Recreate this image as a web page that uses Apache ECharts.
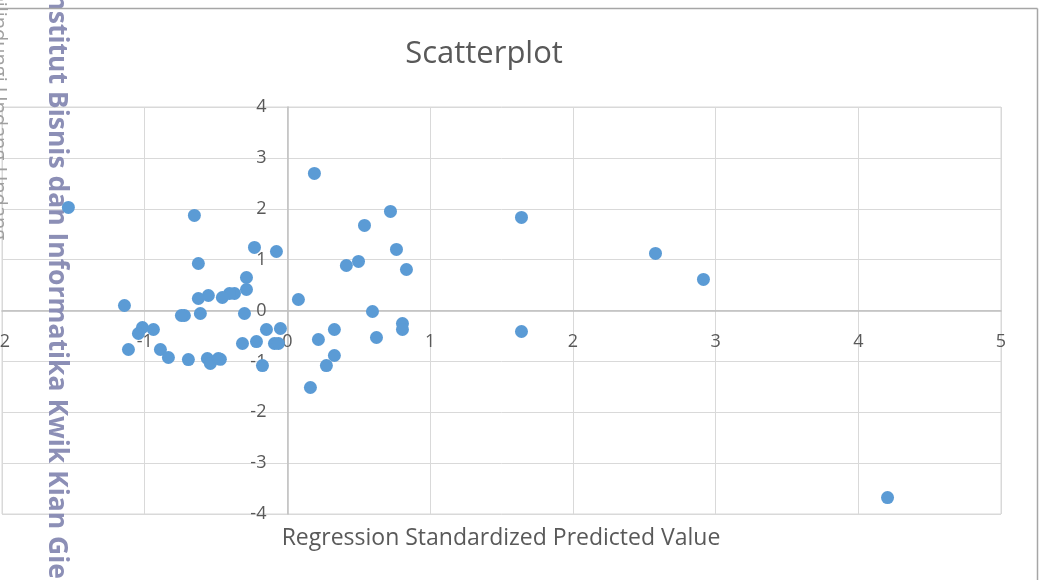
<!DOCTYPE html>
<html>
<head>
<meta charset="utf-8">
<script src="https://cdn.jsdelivr.net/npm/echarts@6/dist/echarts.min.js"></script>
<style>html,body{margin:0;padding:0;background:#fff;}#c{width:1042px;height:580px;}</style>
</head>
<body>
<div id="c"></div>
<script>
const titleText = "Scatterplot";
const xAxisTitle = "Regression Standardized Predicted Value";
const watermark = "Institut Bisnis dan Informatika Kwik Kian Gie";
const watermark2 = "Hak Cipta Dilindungi Undang-Undang";
const xTicks = [-2, -1, 0, 1, 2, 3, 4, 5];
const yTicks = [-4, -3, -2, -1, 0, 1, 2, 3, 4];
const predicted = [
  -1.535, -0.652, 0.189, 0.722, 0.540, 1.640, 2.579, 2.915, 4.205, 1.640,
  -0.231, -0.077, -0.624, 0.764, 0.413, 0.498, 0.834, -0.287, -0.287, -0.371,
  -0.406, -0.456, -0.554, -0.624, -1.142, 0.077, -0.610, -0.722, -0.743, -0.301,
  0.596, 0.806, 0.806, 0.624, 0.329, 0.217, 0.329, 0.273, 0.161, -1.016,
  -1.044, -0.939, -1.114, -0.890, -0.834, -0.694, -0.561, -0.540, -0.484, -0.470,
  -0.315, -0.217, -0.147, -0.049, -0.091, -0.063, -0.175
];
const residual = [
  2.026, 1.868, 2.694, 1.947, 1.672, 1.829, 1.121, 0.610, -3.677, -0.413,
  1.239, 1.160, 0.924, 1.200, 0.885, 0.964, 0.806, 0.649, 0.413, 0.334,
  0.334, 0.256, 0.295, 0.236, 0.098, 0.216, -0.059, -0.098, -0.098, -0.059,
  -0.020, -0.256, -0.374, -0.531, -0.374, -0.570, -0.885, -1.082, -1.514, -0.334,
  -0.452, -0.374, -0.767, -0.767, -0.924, -0.964, -0.944, -1.042, -0.944, -0.960,
  -0.649, -0.610, -0.374, -0.354, -0.649, -0.649, -1.082
];
const points = predicted.map((x, i) => [x, residual[i]]);

const W = 1042, H = 580;
const gridLeft = 2, gridRight = 41, gridTop = 107, gridBottom = 66;
const plotW = W - gridLeft - gridRight, plotH = H - gridTop - gridBottom;
const xMin = xTicks[0], xMax = xTicks[xTicks.length - 1];
const yMin = yTicks[0], yMax = yTicks[yTicks.length - 1];
// axes cross at the origin (Excel style): shift each axis from its edge to the 0 line
const xAxisOffset = -plotH * (0 - yMin) / (yMax - yMin);
const yAxisOffset = -plotW * (0 - xMin) / (xMax - xMin);

const chart = echarts.init(document.getElementById('c'), null, {renderer: 'canvas'});
const font = "'Open Sans', 'Liberation Sans', sans-serif";
chart.setOption({
  animation: false,
  backgroundColor: '#ffffff',
  grid: {left: gridLeft, right: gridRight, top: gridTop, bottom: gridBottom, containLabel: false, outerBoundsMode: 'none',
         show: true, borderColor: '#d9d9d9', borderWidth: 1},
  xAxis: {
    type: 'value', min: xMin, max: xMax, interval: 1,
    position: 'bottom', offset: xAxisOffset,
    axisLine: {show: true, onZero: false, lineStyle: {color: '#bfbfbf', width: 1.5}},
    axisTick: {show: false},
    axisLabel: {color: '#595959', fontSize: 18, fontFamily: font, margin: 22, showMinLabel: true, showMaxLabel: true},
    splitLine: {show: true, lineStyle: {color: '#d9d9d9', width: 1}}
  },
  yAxis: {
    type: 'value', min: yMin, max: yMax, interval: 1,
    position: 'left', offset: yAxisOffset,
    axisLine: {show: true, onZero: false, lineStyle: {color: '#bfbfbf', width: 1.5}},
    axisTick: {show: false},
    axisLabel: {color: '#595959', fontSize: 18, fontFamily: font, margin: 21, showMinLabel: true, showMaxLabel: true},
    splitLine: {show: true, lineStyle: {color: '#d9d9d9', width: 1}}
  },
  series: [{
    type: 'scatter', data: points, symbol: 'circle', symbolSize: 13, z: 5,
    itemStyle: {color: '#5b9bd5', opacity: 1}
  }],
  graphic: [
    {type: 'line', z: 10, shape: {x1: 0, y1: 8.5, x2: 1037.5, y2: 8.5}, style: {stroke: '#a6a6a6', lineWidth: 1.5}},
    {type: 'line', z: 10, shape: {x1: 1037.5, y1: 8.5, x2: 1037.5, y2: 580}, style: {stroke: '#a6a6a6', lineWidth: 1.5}},
    {type: 'text', z: 10, x: 484, y: 54, style: {text: titleText, fill: '#595959', font: "31px " + font, textAlign: 'center', textVerticalAlign: 'middle'}},
    {type: 'text', z: 10, x: 501, y: 538, style: {text: xAxisTitle, fill: '#595959', font: "23px " + font, textAlign: 'center', textVerticalAlign: 'middle'}},
    {type: 'text', z: 3, x: 57, y: 579, rotation: -Math.PI / 2, style: {text: watermark, fill: '#8c8fb6', font: "bold 26.5px " + font, textAlign: 'right', textVerticalAlign: 'middle'}},
    {type: 'text', z: 3, x: -1, y: 240, rotation: -Math.PI / 2, style: {text: watermark2, fill: '#a0a0a0', font: "20px " + font, textAlign: 'right', textVerticalAlign: 'middle'}}
  ]
});
</script>
</body>
</html>
